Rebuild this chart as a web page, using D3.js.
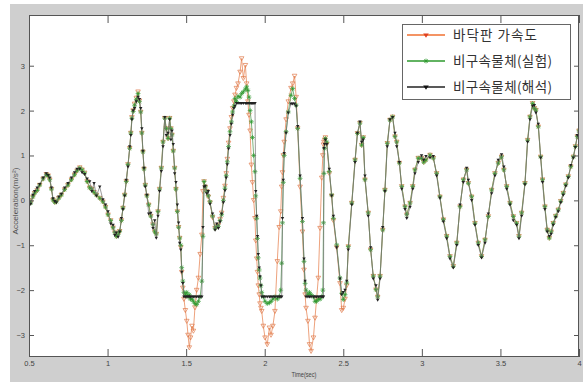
<!DOCTYPE html>
<html><head><meta charset="utf-8">
<script src="https://cdn.jsdelivr.net/npm/d3@7"></script>
<style>body{margin:0;background:#fff}svg{display:block}</style>
</head><body>
<script>
// ---- data ----
const time=[
0.500,0.511,0.525,0.536,0.552,0.568,0.590,0.610,0.622,0.632,
0.643,0.653,0.664,0.674,0.690,0.706,0.727,0.748,0.770,0.790,
0.806,0.823,0.838,0.854,0.870,0.886,0.900,0.914,0.929,0.950,
0.970,0.987,1.003,1.020,1.035,1.046,1.056,1.067,1.077,1.088,
1.098,1.109,1.119,1.130,1.141,1.148,1.155,1.163,1.172,1.183,
1.194,1.203,1.211,1.218,1.225,1.232,1.240,1.250,1.262,1.275,
1.289,1.300,1.310,1.321,1.331,1.342,1.353,1.364,1.374,1.385,
1.395,1.403,1.410,1.418,1.427,1.435,1.444,1.452,1.459,1.466,
1.472,1.479,1.486,1.495,1.504,1.512,1.520,1.528,1.537,1.546,
1.556,1.567,1.578,1.589,1.600,1.607,1.614,1.622,1.631,1.641,
1.652,1.668,1.684,1.695,1.705,1.716,1.726,1.737,1.747,1.755,
1.762,1.770,1.779,1.788,1.796,1.804,1.811,1.820,1.830,1.843,
1.853,1.864,1.877,1.885,1.893,1.900,1.907,1.915,1.922,1.930,
1.938,1.943,1.949,1.954,1.959,1.965,1.970,1.976,1.981,1.991,
2.002,2.016,2.030,2.040,2.052,2.065,2.080,2.092,2.102,2.108,
2.113,2.118,2.124,2.136,2.150,2.167,2.178,2.190,2.200,2.210,
2.225,2.240,2.250,2.257,2.263,2.275,2.285,2.295,2.310,2.320,
2.330,2.341,2.352,2.363,2.370,2.374,2.377,2.381,2.386,2.395,
2.411,2.426,2.437,2.458,2.479,2.490,2.500,2.511,2.522,2.532,
2.554,2.575,2.590,2.606,2.617,2.627,2.638,2.659,2.674,2.691,
2.708,2.719,2.734,2.751,2.765,2.780,2.797,2.814,2.829,2.840,
2.857,2.872,2.893,2.904,2.925,2.942,2.956,2.977,2.998,3.012,
3.026,3.052,3.073,3.094,3.115,3.137,3.158,3.179,3.200,3.222,
3.243,3.264,3.285,3.296,3.317,3.338,3.359,3.380,3.402,3.423,
3.444,3.465,3.486,3.507,3.522,3.540,3.561,3.582,3.603,3.618,
3.635,3.656,3.673,3.688,3.705,3.716,3.726,3.741,3.756,3.768,
3.783,3.798,3.811,3.823,3.836,3.852,3.868,3.884,3.900,3.916,
3.932,3.948,3.964,3.977,3.989,4.000];

// 바닥판 가속도
const floorAcc=[
0.00,-0.05,0.08,0.16,0.22,0.34,0.48,0.58,0.55,0.46,
0.25,0.01,-0.04,-0.03,0.05,0.12,0.24,0.34,0.46,0.57,
0.66,0.73,0.68,0.61,0.42,0.28,0.25,0.18,0.12,0.05,
-0.03,-0.15,-0.32,-0.45,-0.61,-0.72,-0.80,-0.76,-0.69,-0.45,
-0.17,0.12,0.42,0.80,1.16,1.50,1.85,2.00,2.15,2.28,
2.42,2.22,1.97,1.50,1.08,0.70,0.34,0.10,-0.10,-0.35,
-0.54,-0.70,-0.75,-0.25,0.25,0.72,1.30,1.83,1.60,1.38,
1.83,1.60,1.46,1.10,0.72,0.25,-0.25,-0.60,-0.84,-1.05,
-1.60,-1.95,-2.20,-2.45,-2.69,-3.00,-3.28,-3.06,-2.80,-2.91,
-2.39,-2.00,-1.73,-1.20,-0.77,0.20,0.42,0.30,0.20,0.08,
-0.05,-0.38,-0.62,-0.58,-0.55,-0.42,-0.28,0.05,0.32,0.60,
0.92,1.28,1.60,1.85,2.05,2.20,2.35,2.50,2.60,2.86,
3.16,2.72,3.01,2.60,2.20,1.90,1.55,0.79,0.40,0.00,
-0.40,-0.90,-1.30,-1.60,-1.90,-2.10,-2.30,-2.40,-2.47,-2.80,
-3.06,-3.21,-2.84,-3.00,-2.80,-2.47,-1.36,-0.60,-0.25,0.30,
0.62,1.00,1.30,1.80,2.20,2.50,2.60,2.77,2.30,1.60,
0.30,-0.70,-1.55,-2.10,-2.40,-2.69,-3.21,-3.36,-3.06,-2.62,
-2.20,-1.73,-0.62,0.50,1.00,1.24,1.30,1.35,1.40,1.25,
0.60,0.10,-0.45,-1.05,-1.85,-2.45,-2.40,-2.20,-1.90,-1.03,
-0.06,0.90,1.49,1.72,1.23,1.40,0.46,-0.28,-1.10,-1.69,
-1.99,-2.15,-1.69,-0.66,0.23,1.27,1.79,1.86,1.42,1.30,
0.83,0.31,-0.14,-0.32,-0.06,0.31,0.68,0.94,0.94,0.85,
0.90,1.01,0.94,0.60,0.08,-0.43,-0.80,-1.25,-1.47,-0.95,
-0.14,0.46,0.68,0.38,0.08,-0.51,-0.95,-1.25,-0.88,-0.36,
0.23,0.60,0.83,0.97,0.68,0.31,-0.06,-0.36,-0.51,-0.80,
-0.28,0.38,1.34,1.86,2.16,2.05,2.01,1.64,0.97,0.46,
-0.14,-0.66,-0.84,-0.70,-0.51,-0.35,-0.21,-0.02,0.16,0.35,
0.53,0.75,0.97,1.20,1.42,1.55];

// 비구속물체(실험)
const expAcc=[
0.00,-0.06,0.08,0.16,0.22,0.34,0.48,0.57,0.55,0.46,
0.25,0.01,-0.04,-0.03,0.05,0.12,0.24,0.34,0.46,0.57,
0.66,0.72,0.68,0.61,0.42,0.28,0.25,0.18,0.12,0.05,
-0.03,-0.15,-0.32,-0.45,-0.61,-0.72,-0.80,-0.76,-0.69,-0.45,
-0.17,0.12,0.42,0.80,1.16,1.50,1.83,1.98,2.12,2.25,
2.38,2.20,1.97,1.50,1.08,0.70,0.34,0.10,-0.10,-0.35,
-0.54,-0.70,-0.75,-0.25,0.25,0.72,1.30,1.83,1.60,1.38,
1.83,1.60,1.46,1.10,0.72,0.25,-0.25,-0.60,-0.84,-1.00,
-1.50,-1.80,-2.05,-2.10,-2.05,-2.15,-2.10,-2.20,-2.20,-2.25,
-2.30,-2.32,-2.25,-2.15,-1.80,-0.80,0.42,0.30,0.20,0.10,
-0.03,-0.35,-0.62,-0.58,-0.58,-0.45,-0.32,0.00,0.27,0.55,
0.86,1.20,1.53,1.75,1.97,2.10,2.27,2.20,2.32,2.30,
2.38,2.42,2.48,2.53,2.45,2.30,2.00,1.75,1.40,1.00,
0.64,0.10,-0.40,-0.85,-1.28,-1.55,-1.73,-1.90,-2.05,-2.15,
-2.25,-2.30,-2.28,-2.25,-2.20,-2.15,-2.20,-2.15,-2.00,-1.40,
-0.50,0.40,1.00,1.53,1.97,2.34,2.49,2.27,2.12,1.60,
0.49,-0.47,-1.36,-1.85,-2.00,-2.10,-2.05,-2.10,-2.15,-2.25,
-2.25,-2.20,-2.20,-2.15,-2.00,-0.50,0.60,1.16,1.38,1.30,
0.64,0.12,-0.40,-0.99,-1.73,-2.07,-2.21,-2.10,-1.84,-1.03,
-0.06,0.90,1.49,1.72,1.23,1.40,0.46,-0.28,-1.10,-1.69,
-1.99,-2.15,-1.69,-0.66,0.23,1.27,1.79,1.86,1.42,1.30,
0.83,0.31,-0.14,-0.32,-0.06,0.31,0.68,0.94,0.94,0.85,
0.90,1.01,0.94,0.60,0.08,-0.43,-0.80,-1.25,-1.47,-0.95,
-0.14,0.46,0.68,0.38,0.08,-0.51,-0.95,-1.25,-0.88,-0.36,
0.23,0.60,0.83,0.97,0.68,0.31,-0.06,-0.36,-0.51,-0.80,
-0.28,0.38,1.34,1.86,2.16,2.05,2.01,1.64,0.97,0.46,
-0.14,-0.66,-0.84,-0.70,-0.51,-0.35,-0.21,-0.02,0.16,0.35,
0.53,0.75,0.97,1.20,1.42,1.55];

// 비구속물체(해석)
const anaAcc=[
-0.05,-0.08,0.12,0.20,0.28,0.36,0.50,0.60,0.56,0.50,
0.28,0.04,-0.02,-0.05,0.08,0.14,0.28,0.38,0.50,0.62,
0.70,0.70,0.62,0.58,0.48,0.42,0.20,0.38,0.10,0.30,
0.02,-0.10,-0.25,-0.52,-0.55,-0.78,-0.72,-0.82,-0.70,-0.40,
-0.20,0.10,0.45,0.75,1.20,1.45,1.80,2.00,2.05,2.20,
2.30,2.25,2.05,1.60,1.10,0.72,0.30,0.12,-0.30,-0.28,
-0.62,-0.45,-0.84,-0.35,0.20,0.65,1.20,1.85,1.45,1.50,
1.80,1.35,1.55,1.25,0.60,0.40,-0.10,-0.50,-0.95,-1.10,
-1.60,-1.85,-2.15,-2.15,-2.15,-2.15,-2.15,-2.15,-2.15,-2.15,
-2.15,-2.15,-2.15,-2.15,-2.15,-0.60,0.30,0.32,0.15,0.20,
-0.08,-0.30,-0.66,-0.52,-0.62,-0.48,-0.30,-0.05,0.22,0.50,
0.80,1.15,1.45,1.70,1.90,2.05,2.10,2.16,2.16,2.16,
2.16,2.16,2.16,2.16,2.16,2.16,2.16,2.16,2.16,2.16,
2.16,0.20,-0.35,-0.80,-1.20,-1.50,-1.70,-1.90,-2.15,-2.15,
-2.15,-2.15,-2.15,-2.15,-2.15,-2.15,-2.15,-2.15,-2.15,-2.15,
-0.40,0.45,1.05,1.50,1.95,2.15,2.15,2.15,2.10,1.65,
0.55,-0.40,-1.30,-1.80,-2.15,-2.15,-2.15,-2.15,-2.15,-2.15,
-2.15,-2.15,-2.15,-2.15,-2.15,-2.15,1.16,1.25,1.35,1.25,
0.70,0.10,-0.35,-1.05,-1.75,-2.10,-2.05,-2.00,-1.80,-1.10,
-0.10,0.85,1.50,1.75,1.30,1.35,0.55,-0.35,-1.05,-1.75,
-1.90,-2.22,-1.75,-0.60,0.20,1.20,1.80,1.85,1.50,1.20,
0.85,0.25,-0.20,-0.40,-0.15,0.25,0.60,0.85,1.00,0.90,
0.98,0.95,0.98,0.55,0.05,-0.48,-0.85,-1.30,-1.50,-1.00,
-0.10,0.40,0.72,0.45,0.00,-0.55,-1.00,-1.28,-0.95,-0.30,
0.15,0.55,0.90,1.02,0.75,0.25,-0.10,-0.45,-0.55,-0.85,
-0.35,0.35,1.30,1.80,2.10,2.12,1.95,1.70,0.95,0.40,
-0.20,-0.70,-0.80,-0.75,-0.55,-0.38,-0.25,-0.05,0.12,0.32,
0.50,0.78,0.95,1.18,1.45,1.50];

const xTicks=[0.5,1,1.5,2,2.5,3,3.5,4];
const xTickLabels=["0.5","1","1.5","2","2.5","3","3.5","4"];
const yTicks=[-3,-2,-1,0,1,2,3];
const seriesNames=["바닥판 가속도","비구속물체(실험)","비구속물체(해석)"];
const xTitle="Time(sec)";
const yTitle="Acceleration(m/s²)";

if(floorAcc.length!==time.length||expAcc.length!==time.length||anaAcc.length!==time.length)
  throw new Error("length mismatch "+time.length+" "+floorAcc.length+" "+expAcc.length+" "+anaAcc.length);

// ---- drawing ----
const W=585,H=382;
const svg=d3.select("body").append("svg").attr("width",W).attr("height",H);
svg.append("rect").attr("x",10).attr("y",4).attr("width",573).attr("height",378).attr("fill","#cfcfcf");

const L=29,R=579,T=15,B=357;
const x=d3.scaleLinear().domain([0.5,4]).range([L,R]);
const y=d3.scaleLinear().domain([-3.49,4.13]).range([B,T]);

svg.append("rect").attr("x",L).attr("y",T).attr("width",R-L).attr("height",B-T).attr("fill","#fff");
svg.append("clipPath").attr("id","clip").append("rect").attr("x",L).attr("y",T).attr("width",R-L).attr("height",B-T);

const series=[
  {name:seriesNames[0],vals:floorAcc,line:"#e98a5c",lw:0.8,mk:"tri-open",mc:"#e07a4a"},
  {name:seriesNames[1],vals:expAcc,line:"#5aa05a",lw:0.8,mk:"star",mc:"#2e9a2e"},
  {name:seriesNames[2],vals:anaAcc,line:"#707070",lw:0.7,mk:"tri-fill",mc:"#222"}
];
const triPath="M-2.3,-1.8L2.3,-1.8L0,2.3Z";
const starPath="M-2.4,0H2.4M0,-2.4V2.4M-1.7,-1.7L1.7,1.7M-1.7,1.7L1.7,-1.7";
function addMarker(g,kind,color,px,py){
  const p=g.append("path").attr("transform",`translate(${px},${py})`);
  if(kind==="tri-open") p.attr("d",triPath).attr("fill","none").attr("stroke",color).attr("stroke-width",0.7);
  else if(kind==="tri-fill") p.attr("d","M-1.7,-1.3L1.7,-1.3L0,1.7Z").attr("fill",color).attr("stroke","none");
  else p.attr("d",starPath).attr("fill","none").attr("stroke",color).attr("stroke-width",0.7);
}
const plot=svg.append("g").attr("clip-path","url(#clip)");
const lineGen=d3.line().x(d=>x(d[0])).y(d=>y(d[1]));
series.forEach(s=>{
  const pts=time.map((t,i)=>[t,s.vals[i]]);
  const g=plot.append("g");
  g.append("path").attr("d",lineGen(pts)).attr("fill","none").attr("stroke",s.line).attr("stroke-width",s.lw);
  pts.forEach(p=>addMarker(g,s.mk,s.mc,x(p[0]),y(p[1])));
});

// axes (MATLAB-like inward ticks on all sides)
const axStyle=g=>{g.select(".domain").remove();g.selectAll(".tick line").attr("stroke","#555");
  g.selectAll("text").attr("fill","#444").attr("font-family","'Liberation Sans Narrow','Liberation Sans',Arial,sans-serif").attr("font-size","7.5px");};
svg.append("g").attr("transform",`translate(0,${B})`)
  .call(d3.axisBottom(x).tickValues(xTicks).tickFormat((d,i)=>xTickLabels[i]).tickSize(-8).tickPadding(4)).call(axStyle);
svg.append("g").attr("transform",`translate(0,${T})`)
  .call(d3.axisTop(x).tickValues(xTicks).tickFormat("").tickSize(-8)).call(axStyle);
svg.append("g").attr("transform",`translate(${L},0)`)
  .call(d3.axisLeft(y).tickValues(yTicks).tickSize(-5).tickPadding(4)).call(axStyle);
svg.append("g").attr("transform",`translate(${R},0)`)
  .call(d3.axisRight(y).tickValues(yTicks).tickFormat("").tickSize(-5)).call(axStyle);
svg.append("rect").attr("x",L+0.5).attr("y",T+0.5).attr("width",R-L-1).attr("height",B-T-1)
  .attr("fill","none").attr("stroke","#555").attr("stroke-width",1);

svg.append("text").attr("x",(L+R)/2).attr("y",377).attr("text-anchor","middle")
  .attr("font-family","'Liberation Sans Narrow','Liberation Sans',Arial,sans-serif").attr("font-size","8px").attr("fill","#444")
  .attr("textLength",25).attr("lengthAdjust","spacingAndGlyphs").text(xTitle);
svg.append("text").attr("transform","translate(18,201) rotate(-90)").attr("text-anchor","middle")
  .attr("font-family","'Liberation Sans',Arial,sans-serif").attr("font-size","8px").attr("fill","#555")
  .attr("textLength",67).attr("lengthAdjust","spacingAndGlyphs").text(yTitle);

// legend
const lg=svg.append("g");
lg.append("rect").attr("x",402.5).attr("y",24.5).attr("width",168).attr("height",75).attr("fill","#fff").attr("stroke","#666").attr("stroke-width",1);
const legendColors=["#f07030","#2e9a2e","#222"];
const legendLens=[84,99,99];
series.forEach((s,i)=>{
  const yy=35+i*26;
  lg.append("line").attr("x1",407).attr("x2",445).attr("y1",yy).attr("y2",yy).attr("stroke",legendColors[i]).attr("stroke-width",1.6);
  if(i===0) lg.append("path").attr("transform",`translate(426,${yy})`).attr("d","M-2.8,-1.5L2.8,-1.5L0,2.8Z").attr("fill","#e04020");
  else if(i===1) lg.append("path").attr("transform",`translate(426,${yy})`).attr("d",starPath).attr("fill","none").attr("stroke","#2e9a2e").attr("stroke-width",0.8);
  else lg.append("path").attr("transform",`translate(426,${yy})`).attr("d","M-2.8,-1.5L2.8,-1.5L0,2.8Z").attr("fill","#111");
  lg.append("text").attr("x",453).attr("y",yy+5).attr("font-family","'Noto Sans CJK KR',sans-serif").attr("font-size","13.5px")
    .attr("fill","#333").attr("textLength",legendLens[i]).attr("lengthAdjust","spacing").text(s.name);
});
</script>
</body></html>
